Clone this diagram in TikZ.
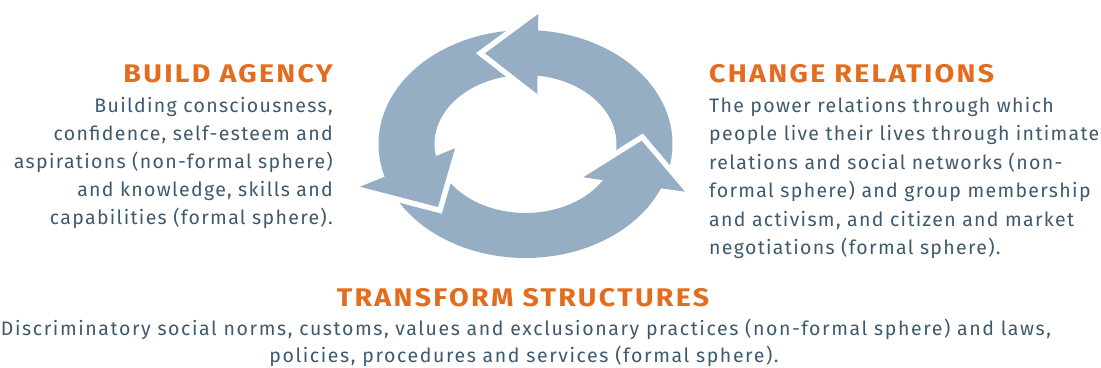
\documentclass[tikz,border=0pt]{standalone}
\usepackage{fontspec}
\setmainfont{Fira Sans}
\newfontfamily\bodyfont[LetterSpace=6.8]{Fira Sans}
\newfontfamily\widefont[LetterSpace=8.2]{Fira Sans}
\newfontfamily\headfont[FakeStretch=1.12,LetterSpace=9]{Fira Sans}
\definecolor{ringc}{HTML}{95AEC4}
\definecolor{headc}{HTML}{E36C1E}
\definecolor{bodyc}{HTML}{3E5A6F}
\begin{document}
\begin{tikzpicture}[x=1bp,y=1bp,
  ring/.style={fill=ringc},
  gapline/.style={draw=white,line width=11bp,line join=miter,miter limit=20},
  title/.style={text=headc,font=\headfont\fontsize{25.5bp}{28bp}\selectfont\bfseries,inner sep=0pt},
  body/.style={text=bodyc,font=\bodyfont\fontsize{19.5bp}{28bp}\selectfont,inner sep=0pt},
  bodywide/.style={text=bodyc,font=\widefont\fontsize{19.5bp}{28bp}\selectfont,inner sep=0pt}]
\useasboundingbox[fill=white] (0,0) rectangle (1101,367);
\def\cx{525.5}\def\cy{223}
% arrow bodies
\fill[ring] plot[domain=-15:89,samples=60] ({\cx+147*cos(\x)},{\cy+114*sin(\x)}) -- plot[domain=89:-15,samples=60] ({\cx+91*cos(\x)},{\cy+69*sin(\x)}) -- cycle;
\fill[ring] plot[domain=89:205,samples=60] ({\cx+147*cos(\x)},{\cy+114*sin(\x)}) -- plot[domain=205:89,samples=60] ({\cx+91*cos(\x)},{\cy+69*sin(\x)}) -- cycle;
\fill[ring] plot[domain=205:345,samples=60] ({\cx+147*cos(\x)},{\cy+114*sin(\x)}) -- plot[domain=345:205,samples=60] ({\cx+91*cos(\x)},{\cy+69*sin(\x)}) -- cycle;
% arrow heads
\coordinate (t1) at (485,313.7); \coordinate (o1) at (538.3,353); \coordinate (i1) at (537.3,273);
\coordinate (t2) at (438,160);   \coordinate (o2) at (360,180.3); \coordinate (i2) at (455,218.7);
\coordinate (t3) at (641.7,226.3); \coordinate (o3) at (685,175.3); \coordinate (i3) at (583.3,189.7);
\foreach \k in {1,2,3}{
  \draw[gapline] (o\k) -- (t\k) -- (i\k);
  \fill[ring] (o\k) -- (t\k) -- (i\k) -- cycle;
}
% texts
\node[title,anchor=base east] (ah) at (333,285) {BUILD AGENCY};
\node[body,anchor=base east] (a1) at (333,255) {Building consciousness,};
\node[body,anchor=base east] (a2) at (333,227) {confidence, self-esteem and};
\node[body,anchor=base east] (a3) at (333,199) {aspirations (non-formal sphere)};
\node[body,anchor=base east] (a4) at (333,171) {and knowledge, skills and};
\node[body,anchor=base east] (a5) at (333,143) {capabilities (formal sphere).};
\node[title,anchor=base west] (ch) at (709,285) {CHANGE RELATIONS};
\node[body,anchor=base west] (c1) at (709,255) {The power relations through which};
\node[body,anchor=base west] (c2) at (709,226.5) {people live their lives through intimate};
\node[body,anchor=base west] (c3) at (709,198) {relations and social networks (non-};
\node[body,anchor=base west] (c4) at (709,169.5) {formal sphere) and group membership};
\node[body,anchor=base west] (c5) at (709,141) {and activism, and citizen and market};
\node[body,anchor=base west] (c6) at (709,112.5) {negotiations (formal sphere).};
\node[title,anchor=base] (th) at (523,60.5) {TRANSFORM STRUCTURES};
\node[bodywide,anchor=base] (t1x) at (526,32) {Discriminatory social norms, customs, values and exclusionary practices (non-formal sphere) and laws,};
\node[bodywide,anchor=base] (t2x) at (524,4.5) {policies, procedures and services (formal sphere).};
\end{tikzpicture}
\end{document}
